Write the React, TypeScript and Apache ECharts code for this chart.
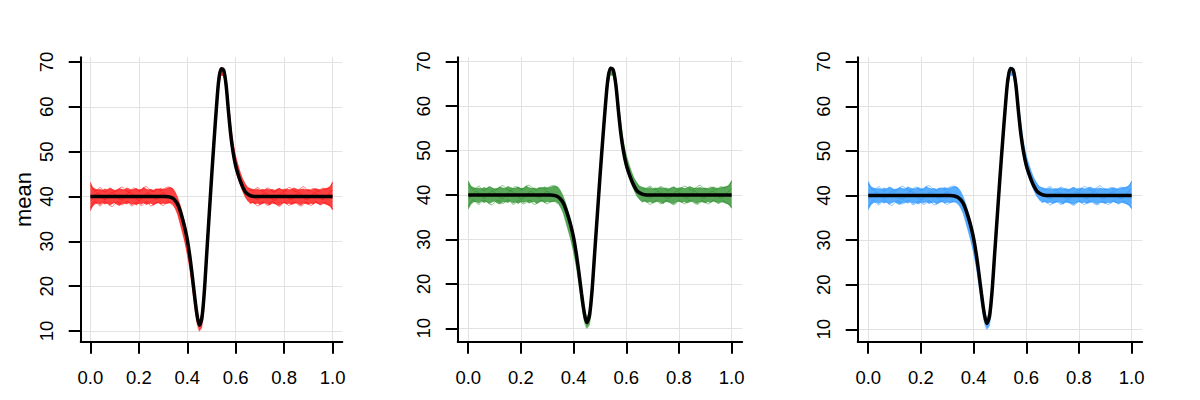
import { useEffect, useRef } from "react";
import * as echarts from "echarts";

// Sample positions (x on [0,1])
const X = [
  0, 0.01, 0.02, 0.03, 0.04, 0.05, 0.06, 0.07, 0.08, 0.09,
  0.1, 0.11, 0.12, 0.13, 0.14, 0.15, 0.16, 0.17, 0.18, 0.19,
  0.2, 0.21, 0.22, 0.23, 0.24, 0.25, 0.26, 0.27, 0.28, 0.29,
  0.3, 0.31, 0.32, 0.33, 0.34, 0.35, 0.36, 0.37, 0.38, 0.39,
  0.4, 0.41, 0.42, 0.43, 0.44, 0.45, 0.46, 0.47, 0.48, 0.49,
  0.5, 0.51, 0.52, 0.53, 0.54, 0.55, 0.56, 0.57, 0.58, 0.59,
  0.6, 0.61, 0.62, 0.63, 0.64, 0.65, 0.66, 0.67, 0.68, 0.69,
  0.7, 0.71, 0.72, 0.73, 0.74, 0.75, 0.76, 0.77, 0.78, 0.79,
  0.8, 0.81, 0.82, 0.83, 0.84, 0.85, 0.86, 0.87, 0.88, 0.89,
  0.9, 0.91, 0.92, 0.93, 0.94, 0.95, 0.96, 0.97, 0.98, 0.99, 1.0,
];

// Mean curve (black)
const MEAN = [
  40, 40, 40, 40, 40, 40, 40, 40, 40, 40,
  40, 40, 40, 40, 40, 40, 40, 40, 40, 40,
  40, 40, 40, 40, 40, 40, 40, 40, 40, 40,
  40, 40, 39.95, 39.85, 39.6, 39.1, 38.3, 36.9, 35.1, 33.0,
  30.4, 26.9, 22.6, 17.9, 13.7, 11.3, 12.8, 18.5, 27.0, 35.5,
  44.0, 52.0, 59.6, 66.0, 68.5, 68.2, 65.0, 59.0, 53.5, 49.6,
  46.8, 44.9, 43.3, 42.0, 41.0, 40.5, 40.2, 40.05, 40, 40,
  40, 40, 40, 40, 40, 40, 40, 40, 40, 40,
  40, 40, 40, 40, 40, 40, 40, 40, 40, 40,
  40, 40, 40, 40, 40, 40, 40, 40, 40, 40, 40,
];

// Envelope of the individual curves
const BAND_LO = [
  36.8, 37.9, 38.4, 38.5, 38.2, 38.6, 38.3, 38.5, 38.1, 38.4,
  38.6, 38.2, 38.0, 38.4, 38.5, 38.3, 38.6, 38.2, 38.4, 38.1,
  38.5, 38.3, 38.6, 38.2, 38.4, 38.5, 38.1, 38.4, 38.6, 38.3,
  38.5, 38.4, 38.5, 38.6, 38.2, 37.3, 36.0, 34.0, 31.9, 29.7,
  27.0, 23.9, 19.9, 15.6, 11.8, 10.0, 10.8, 16.0, 24.8, 33.4,
  42.0, 50.0, 57.6, 64.2, 67.0, 66.8, 63.6, 57.8, 52.4, 48.6,
  45.8, 44.0, 42.4, 41.0, 39.8, 39.0, 38.5, 38.6, 38.3, 38.5,
  38.2, 38.4, 38.6, 38.3, 38.1, 38.5, 38.4, 38.2, 38.0, 38.4,
  38.6, 38.3, 38.5, 38.2, 38.4, 38.6, 38.3, 38.1, 38.5, 38.4,
  38.2, 38.5, 38.3, 38.6, 38.4, 38.2, 38.5, 38.3, 38.1, 37.8, 37.0,
];
const BAND_HI = [
  43.2, 42.0, 41.7, 41.5, 41.6, 41.4, 41.7, 41.5, 41.8, 41.6,
  41.4, 41.5, 41.8, 41.6, 41.5, 41.9, 41.7, 41.5, 41.6, 41.8,
  41.5, 41.6, 42.0, 41.7, 41.5, 41.6, 41.4, 41.7, 41.6, 41.8,
  41.6, 41.7, 41.9, 42.0, 41.8, 41.0, 39.8, 38.2, 36.2, 33.9,
  31.3, 27.8, 23.4, 18.8, 14.6, 12.4, 14.2, 20.2, 29.0, 37.6,
  46.0, 54.0, 61.3, 67.2, 68.8, 68.7, 66.4, 61.0, 56.0, 51.8,
  49.0, 47.0, 45.2, 43.8, 42.8, 42.0, 41.8, 41.6, 41.5, 41.7,
  41.4, 41.6, 41.5, 41.7, 41.5, 41.6, 41.4, 41.6, 41.8, 41.5,
  41.6, 41.7, 41.5, 41.6, 41.9, 41.7, 41.5, 41.6, 41.7, 41.5,
  41.6, 41.4, 41.6, 41.8, 41.6, 41.5, 41.7, 41.8, 41.9, 42.2, 43.3,
];

// A few individual curves over the flat stretches (x 0..0.34 and 0.66..1)
const LINE_HI_L = [42.6, 41.8, 41.2, 41.6, 42.0, 41.5, 41.0, 41.4, 41.9, 41.6, 41.1, 41.3, 41.8, 42.1, 41.7, 41.2, 41.0, 41.5, 41.9, 41.6, 41.2, 41.4, 42.0, 42.2, 41.8, 41.3, 41.1, 41.5, 41.7, 41.3, 41.6, 41.9, 42.1, 42.0, 41.5];
const LINE_LO_L = [37.4, 38.4, 38.9, 38.3, 37.9, 38.4, 38.8, 38.5, 38.0, 37.8, 38.3, 38.8, 38.6, 38.1, 38.4, 38.9, 38.5, 37.9, 38.2, 38.7, 38.4, 38.0, 38.3, 38.8, 38.5, 37.9, 38.1, 38.6, 38.8, 38.3, 38.0, 38.4, 38.7, 38.5, 38.0];
const LINE_MID_L = [39.2, 39.6, 40.3, 40.8, 40.4, 39.7, 39.3, 39.8, 40.5, 40.9, 40.6, 39.9, 39.4, 39.2, 39.7, 40.4, 40.9, 40.7, 40.1, 39.5, 39.1, 39.4, 40.0, 40.6, 40.8, 40.3, 39.7, 39.4, 39.8, 40.5, 40.8, 40.4, 39.9, 39.7, 39.3];
const LINE_HI_R = [41.6, 41.3, 41.7, 42.0, 41.6, 41.2, 41.4, 41.9, 41.7, 41.2, 41.0, 41.5, 41.8, 41.4, 41.1, 41.6, 42.0, 41.8, 41.3, 41.1, 41.5, 41.9, 42.2, 41.7, 41.3, 41.5, 41.8, 41.4, 41.1, 41.6, 41.9, 41.6, 41.8, 42.3, 43.0];
const LINE_LO_R = [38.3, 38.8, 38.4, 37.9, 38.2, 38.7, 38.5, 38.0, 38.3, 38.8, 38.6, 38.1, 37.8, 38.2, 38.7, 38.4, 38.0, 38.4, 38.8, 38.5, 38.1, 37.9, 38.3, 38.7, 38.4, 38.0, 38.3, 38.8, 38.5, 38.1, 38.4, 38.7, 38.3, 37.9, 37.2];
const LINE_MID_R = [40.6, 40.2, 39.6, 39.3, 39.7, 40.4, 40.8, 40.5, 39.9, 39.4, 39.2, 39.6, 40.3, 40.8, 40.6, 40.0, 39.5, 39.3, 39.8, 40.5, 40.9, 40.4, 39.8, 39.3, 39.5, 40.1, 40.7, 40.8, 40.2, 39.6, 39.3, 39.7, 40.4, 40.9, 41.5];

const X_TICKS = [0, 0.2, 0.4, 0.6, 0.8, 1.0];
const Y_TICKS = [10, 20, 30, 40, 50, 60, 70];
const PANEL_COLORS = ["#FF0000", "#228B22", "#1E90FF"];
const Y_LABEL = "mean";

export default function App() {
  const ref = useRef<HTMLDivElement>(null);
  useEffect(() => {
    document.body.style.margin = "0";
    const chart = echarts.init(ref.current!, null, { renderer: "svg" });
    const font = "'Liberation Sans', Arial, Helvetica, sans-serif";
    const lefts = [80.7, 457.7, 857.7];
    const widths = [261.6, 284.5, 284.5];
    const yMins = [7.61, 6.99, 7.22];
    const yMaxs = [71.05, 70.99, 71.0];
    const XL = X.slice(0, 35);
    const XR = X.slice(66);
    const grids: any[] = [];
    const xAxes: any[] = [];
    const yAxes: any[] = [];
    const series: any[] = [];
    const axisLine = { show: true, onZero: false, lineStyle: { color: "#000", width: 2 } };
    const tickStyle = { color: "#000", width: 2 };
    const split = { show: true, lineStyle: { color: "#e2e2e2", width: 1 } };

    for (let i = 0; i < 3; i++) {
      const col = PANEL_COLORS[i];
      grids.push({ left: lefts[i], top: 57.3, width: widths[i], height: 284.4, containLabel: false });
      xAxes.push({
        gridIndex: i, type: "value", min: -0.04, max: 1.04,
        axisLine,
        axisTick: { show: true, inside: false, length: 12, lineStyle: tickStyle, customValues: X_TICKS },
        axisLabel: {
          show: true, customValues: X_TICKS, formatter: (v: number) => v.toFixed(1),
          color: "#000", fontSize: 18.5, fontFamily: font, margin: 26,
        },
        splitLine: split,
      });
      yAxes.push({
        gridIndex: i, type: "value", min: yMins[i], max: yMaxs[i],
        axisLine,
        axisTick: { show: true, inside: false, length: 12, lineStyle: tickStyle, customValues: Y_TICKS },
        axisLabel: {
          show: true, customValues: Y_TICKS, rotate: 90, formatter: (v: number) => String(v),
          color: "#000", fontSize: 18.5, fontFamily: font, margin: 25,
        },
        splitLine: split,
        name: i === 0 ? Y_LABEL : "",
        nameLocation: "middle",
        nameRotate: 90,
        nameGap: 46,
        nameTextStyle: { color: "#000", fontSize: 22, fontFamily: font },
      });
      const common = { xAxisIndex: i, yAxisIndex: i, symbol: "none", silent: true, animation: false };
      // filled envelope of the curves
      series.push({
        type: "custom", xAxisIndex: i, yAxisIndex: i, silent: true, animation: false,
        clip: true, z: 2,
        data: [[0, 40]],
        renderItem: (_params: any, api: any) => {
          const top = X.map((x, k) => api.coord([x, BAND_HI[k]]));
          const bot = X.map((x, k) => api.coord([x, BAND_LO[k]])).reverse();
          return {
            type: "polygon",
            shape: { points: top.concat(bot) },
            style: { fill: col, opacity: 0.75 },
          };
        },
      });
      series.push({
        ...common, type: "line", smooth: 0.3,
        data: X.map((x, k) => [x, BAND_LO[k]]),
        lineStyle: { color: col, width: 1, opacity: 0.45 },
        z: 3,
      });
      series.push({
        ...common, type: "line", smooth: 0.3,
        data: X.map((x, k) => [x, BAND_HI[k]]),
        lineStyle: { color: col, width: 1, opacity: 0.45 },
        z: 3,
      });
      const lines: [number[], number[]][] = [
        [XL, LINE_HI_L], [XL, LINE_LO_L], [XL, LINE_MID_L],
        [XR, LINE_HI_R], [XR, LINE_LO_R], [XR, LINE_MID_R],
      ];
      lines.forEach(([xs, ys]) => {
        series.push({
          ...common, type: "line", smooth: 0.4,
          data: xs.map((x, k) => [x, ys[k]]),
          lineStyle: { color: col, width: 1, opacity: 0.5 },
          z: 3,
        });
      });
      series.push({
        ...common, type: "line", smooth: 0.3,
        data: X.map((x, k) => [x, MEAN[k]]),
        lineStyle: { color: "#000", width: 3.5 },
        z: 5,
      });
    }

    chart.setOption({
      animation: false,
      backgroundColor: "#fff",
      grid: grids,
      xAxis: xAxes,
      yAxis: yAxes,
      series,
    });
    return () => chart.dispose();
  }, []);
  return (
    <div
      ref={ref}
      style={{ position: "absolute", left: 0, top: 0, width: 1200, height: 400, background: "#fff" }}
    />
  );
}
